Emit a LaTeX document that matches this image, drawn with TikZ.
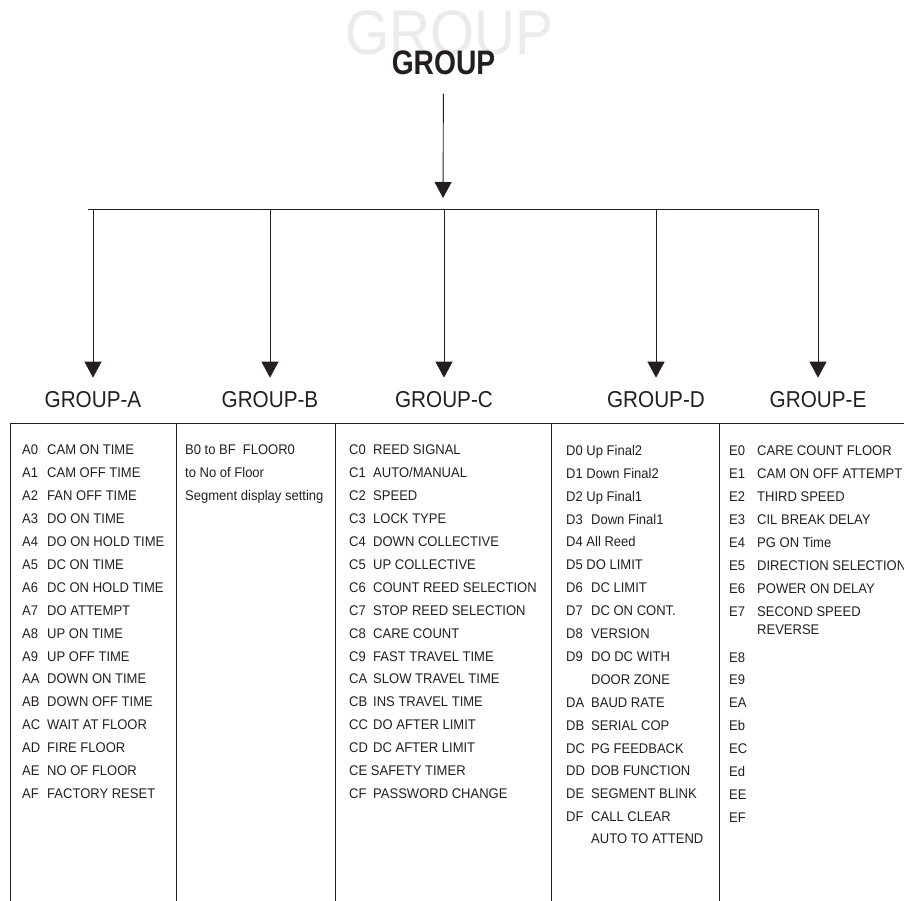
\documentclass[tikz,border=0pt]{standalone}
\usepackage{fontspec}
\setmainfont{Liberation Sans}
\newfontfamily\itemfont[FakeStretch=0.93]{Liberation Sans}
\newfontfamily\grpfont[FakeStretch=0.9]{Liberation Sans}
\newfontfamily\topfont[FakeStretch=0.83]{Liberation Sans}
\newfontfamily\shadowfont[FakeStretch=0.9]{Liberation Sans}
\usetikzlibrary{arrows.meta,positioning}
\definecolor{ink}{HTML}{231F20}
\definecolor{ghost}{HTML}{EBEBEB}
\newcommand{\itm}[3][25pt]{\makebox[#1][l]{#2}#3}

\begin{document}
\begin{tikzpicture}[x=1pt, y=-1pt,
  link/.style={draw=ink, line width=0.9pt},
  arr/.style={link, -{Triangle[length=16pt, width=17pt]}},
  grp/.style={inner sep=0pt, text=ink, font=\grpfont\fontsize{23pt}{23pt}\selectfont},
  list/.style={anchor=north west, inner sep=0pt, align=left, text=ink,
               font=\itemfont\fontsize{14pt}{22.9pt}\selectfont}]
\useasboundingbox (0,0) rectangle (904,901);

% heading
\node[inner sep=0pt, text=ghost, font=\shadowfont\fontsize{63pt}{63pt}\selectfont]
  (ghost) at (449,33) {GROUP};
\node[inner sep=0pt, text=ink, font=\topfont\bfseries\fontsize{34pt}{34pt}\selectfont]
  (title) at (443.5,62.5) {GROUP};

\coordinate (bar) at (443,209);
\coordinate (barL) at (88,209);
\coordinate (barR) at (819,209);
\draw[arr, shorten <=19pt, shorten >=11pt] (title) -- (bar);
\draw[link] (barL) -- (barR);

% groups
\node[grp] (grpA) at (93,400) {GROUP-A};
\node[grp] (grpB) at (270,400) {GROUP-B};
\node[grp] (grpC) at (444,400) {GROUP-C};
\node[grp] (grpD) at (656,400) {GROUP-D};
\node[grp] (grpE) at (818,400) {GROUP-E};

\draw[arr, shorten >=14pt] (grpA |- bar) -- (grpA);
\draw[arr, shorten >=14pt] (grpB |- bar) -- (grpB);
\draw[arr, shorten >=14pt] (grpC |- bar) -- (grpC);
\draw[arr, shorten >=14pt] (grpD |- bar) -- (grpD);
\draw[arr, shorten >=14pt] (grpE |- bar) -- (grpE);

% table
\draw[link] (10,901) -- (10,423) -- (904,423);
\draw[link] (176,423) -- (176,901);
\draw[link] (335,423) -- (335,901);
\draw[link] (551,423) -- (551,901);
\draw[link] (719,423) -- (719,901);

\node[list] (listA) at (22,445) {\itm{A0}{CAM ON TIME}\\ \itm{A1}{CAM OFF TIME}\\
  \itm{A2}{FAN OFF TIME}\\ \itm{A3}{DO ON TIME}\\ \itm{A4}{DO ON HOLD TIME}\\
  \itm{A5}{DC ON TIME}\\ \itm{A6}{DC ON HOLD TIME}\\ \itm{A7}{DO ATTEMPT}\\
  \itm{A8}{UP ON TIME}\\ \itm{A9}{UP OFF TIME}\\ \itm{AA}{DOWN ON TIME}\\
  \itm{AB}{DOWN OFF TIME}\\ \itm{AC}{WAIT AT FLOOR}\\ \itm{AD}{FIRE FLOOR}\\
  \itm{AE}{NO OF FLOOR}\\ \itm{AF}{FACTORY RESET}};

\node[list] (listB) at (185,445) {B0 to BF\enspace FLOOR0\\ to No of Floor\\
  Segment display setting};

\node[list] (listC) at (349,445) {\itm[24pt]{C0}{REED SIGNAL}\\ \itm[24pt]{C1}{AUTO/MANUAL}\\
  \itm[24pt]{C2}{SPEED}\\ \itm[24pt]{C3}{LOCK TYPE}\\ \itm[24pt]{C4}{DOWN COLLECTIVE}\\
  \itm[24pt]{C5}{UP COLLECTIVE}\\ \itm[24pt]{C6}{COUNT REED SELECTION}\\
  \itm[24pt]{C7}{STOP REED SELECTION}\\ \itm[24pt]{C8}{CARE COUNT}\\
  \itm[24pt]{C9}{FAST TRAVEL TIME}\\ \itm[24pt]{CA}{SLOW TRAVEL TIME}\\
  \itm[24pt]{CB}{INS TRAVEL TIME}\\ \itm[24pt]{CC}{DO AFTER LIMIT}\\
  \itm[24pt]{CD}{DC AFTER LIMIT}\\ CE SAFETY TIMER\\ \itm[24pt]{CF}{PASSWORD CHANGE}};

\node[list] (listD) at (566,445) {D0 Up Final2\\ D1 Down Final2\\ D2 Up Final1\\
  \itm{D3}{Down Final1}\\ D4 All Reed\\ D5 DO LIMIT\\ \itm{D6}{DC LIMIT}\\
  \itm{D7}{DC ON CONT.}\\ \itm{D8}{VERSION}\\ \itm{D9}{DO DC WITH}\\
  \hspace*{25pt}DOOR ZONE\\ \itm{DA}{BAUD RATE}\\ \itm{DB}{SERIAL COP}\\
  \itm{DC}{PG FEEDBACK}\\ \itm{DD}{DOB FUNCTION}\\ \itm{DE}{SEGMENT BLINK}\\
  \itm{DF}{CALL CLEAR}\\[-1.5pt] \hspace*{25pt}AUTO TO ATTEND};

\node[list] (listE) at (729,446) {\itm[28pt]{E0}{CARE COUNT FLOOR}\\
  \itm[28pt]{E1}{CAM ON OFF ATTEMPT}\\ \itm[28pt]{E2}{THIRD SPEED}\\
  \itm[28pt]{E3}{CIL BREAK DELAY}\\ \itm[28pt]{E4}{PG ON Time}\\
  \itm[28pt]{E5}{DIRECTION SELECTION}\\ \itm[28pt]{E6}{POWER ON DELAY}\\
  \itm[28pt]{E7}{SECOND SPEED}\\[-4.9pt] \hspace*{28pt}REVERSE\\[4.9pt]
  E8\\ E9\\ EA\\ Eb\\ EC\\ Ed\\ EE\\ EF};
\end{tikzpicture}
\end{document}
